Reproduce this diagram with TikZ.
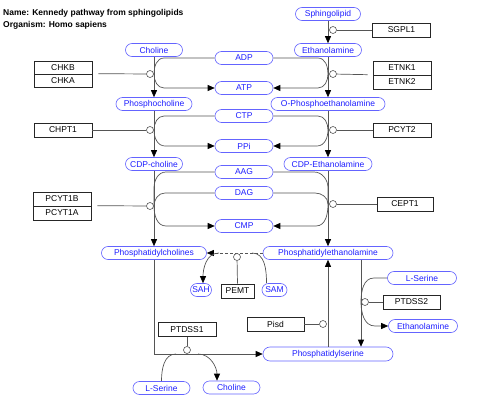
\documentclass[tikz,border=0pt]{standalone}
\usepackage{fontspec}
\setmainfont{Liberation Sans}
\usetikzlibrary{arrows.meta}
\definecolor{metb}{RGB}{100,100,255}
\definecolor{mett}{RGB}{30,30,255}
\definecolor{lc}{RGB}{85,85,85}
\begin{document}
\begin{tikzpicture}[x=1pt,y=-1pt,
  every node/.style={font=\fontsize{8.5}{10}\selectfont},
  met/.style={draw=metb, text=mett, rounded corners=6.5pt, minimum height=13pt, inner sep=0pt, line width=0.6pt},
  gene/.style={draw=black!85, minimum width=58pt, minimum height=14pt, inner sep=0pt, line width=0.6pt},
  anc/.style={circle, draw=lc, fill=white, minimum size=7pt, inner sep=0pt, line width=0.6pt},
  ln/.style={draw=lc, line width=0.7pt},
  ar/.style={ln, -{Triangle[length=7pt,width=6pt,color=black]}},
]
\useasboundingbox (0,0) rectangle (480,417);

% title
\node[anchor=base west, font=\bfseries\fontsize{8.5}{10}\selectfont, inner sep=0pt] (t1) at (3,16) {Name: Kennedy pathway from sphingolipids};
\node[anchor=base west, font=\bfseries\fontsize{8.5}{10}\selectfont, inner sep=0pt] (t2) at (3,28) {Organism: Homo sapiens};

% metabolites
\node[met, minimum width=65pt] (sph) at (328,14) {Sphingolipid};
\node[met, minimum width=67pt] (eth) at (328,50) {Ethanolamine};
\node[met, minimum width=57pt] (cho) at (154,50) {Choline};
\node[met, minimum width=58pt] (adp) at (244,58) {ADP};
\node[met, minimum width=58pt] (atp) at (244,88) {ATP};
\node[met, minimum width=76pt] (pcho) at (154,104) {Phosphocholine};
\node[met, minimum width=114pt] (opeth) at (328,104) {O-Phosphoethanolamine};
\node[met, minimum width=58pt] (ctp) at (244,116) {CTP};
\node[met, minimum width=58pt] (ppi) at (244,146) {PPi};
\node[met, minimum width=57pt] (cdpc) at (154,164) {CDP-choline};
\node[met, minimum width=88pt] (cdpe) at (328,164) {CDP-Ethanolamine};
\node[met, minimum width=58pt] (aag) at (244,172) {AAG};
\node[met, minimum width=58pt] (dag) at (244,193) {DAG};
\node[met, minimum width=58pt] (cmp) at (244,226) {CMP};
\node[met, minimum width=105pt] (pc) at (154,253) {Phosphatidylcholines};
\node[met, minimum width=130pt] (pe) at (328,253) {Phosphatidylethanolamine};
\node[met, minimum width=21pt] (sah) at (201,290) {SAH};
\node[met, minimum width=25pt] (sam) at (274.5,290) {SAM};
\node[met, minimum width=69pt] (lser2) at (422,278) {L-Serine};
\node[met, minimum width=69pt] (eth2) at (423,326) {Ethanolamine};
\node[met, minimum width=130pt, minimum height=14pt, rounded corners=7pt] (ps) at (328,354) {Phosphatidylserine};
\node[met, minimum width=57pt] (lser1) at (161.5,388) {L-Serine};
\node[met, minimum width=57pt] (cho2) at (231.5,387.5) {Choline};

% genes
\node[gene, minimum height=13pt] (chkb) at (63,67.5) {CHKB};
\node[gene, minimum height=13pt] (chka) at (63,80.5) {CHKA};
\node[gene] (chpt1) at (63,130) {CHPT1};
\node[gene] (pcyt1b) at (62,199) {PCYT1B};
\node[gene] (pcyt1a) at (62,213) {PCYT1A};
\node[gene] (sgpl1) at (401.5,30) {SGPL1};
\node[gene] (etnk1) at (402,68) {ETNK1};
\node[gene] (etnk2) at (402,82) {ETNK2};
\node[gene] (pcyt2) at (402,130) {PCYT2};
\node[gene, minimum width=56pt] (cept1) at (405,204) {CEPT1};
\node[gene, minimum width=33pt] (pemt) at (237.5,291) {PEMT};
\node[gene, minimum width=57pt] (ptdss2) at (411.5,302) {PTDSS2};
\node[gene, minimum width=57pt] (pisd) at (275.5,324) {Pisd};
\node[gene] (ptdss1) at (187,329.5) {PTDSS1};

% reaction points
\coordinate (r1) at (154,74);
\coordinate (r2) at (328,74);
\coordinate (r3) at (154,130);
\coordinate (r4) at (328,130);
\coordinate (r5) at (154,206);
\coordinate (r6) at (328,204);
\coordinate (r8) at (361,302);
\coordinate (s1) at (164,58);
\coordinate (s2) at (164,88);
\coordinate (s3) at (318,58);
\coordinate (s4) at (318,88);

% main conversions
\draw[ar] (sph) -- (eth);
\draw[ar] (cho) -- (pcho);
\draw[ar] (eth) -- (opeth);
\draw[ar] (pcho) -- (cdpc);
\draw[ar] (opeth) -- (cdpe);
\draw[ar] (cdpc) -- (pc);
\draw[ar] (cdpe) -- (pe);
\draw[ar] (ps) -- (pe);
\draw[ar] ([xshift=33pt]pe.south) -- ([xshift=33pt]ps.north);
\draw[ar] (pc.south) |- (ps.west);
\draw[ar, dash pattern=on 3pt off 2pt] (pe.west) -- (pc.east);

% side substrates / products
\draw[ln] (adp.west) -- (s1) to[out=180,in=90] (r1);
\draw[ar] (r1) to[out=-90,in=180] (s2) -- (atp.west);
\draw[ln] (adp.east) -- (s3) to[out=0,in=90] (r2);
\draw[ar] (r2) to[out=-90,in=0] (s4) -- (atp.east);

\draw[ln] (ctp.west) -- (164,116) to[out=180,in=90] (r3);
\draw[ar] (r3) to[out=-90,in=180] (165,146) -- (ppi.west);
\draw[ln] (ctp.east) -- (318,116) to[out=0,in=90] (r4);
\draw[ar] (r4) to[out=-90,in=0] (317,146) -- (ppi.east);

\draw[ln] (aag.west) -- (166,172) to[out=180,in=90] (154,188) -- (r5);
\draw[ln] (dag.west) -- (165,193) to[out=180,in=90] (r5);
\draw[ar] (r5) to[out=-90,in=180] (166,226) -- (cmp.west);
\draw[ln] (aag.east) -- (314,172) to[out=0,in=90] (328,188) -- (r6);
\draw[ln] (dag.east) -- (315,193) to[out=0,in=90] (r6);
\draw[ar] (r6) to[out=-90,in=0] (316,226) -- (cmp.east);

\draw[ln] ([xshift=-8pt]sam.north) to[out=90,in=0] (252,253);
\draw[ar] (219,253) to[out=180,in=90] ([xshift=2pt]sah.north);

\draw[ln] (lser2.west) -- (374,278) to[out=180,in=90] (r8);
\draw[ar] (r8) to[out=-90,in=180] (375,326) -- (eth2.west);

\draw[ln] (lser1.north) to[out=90,in=180] (176,354);
\draw[ar] (198,354) to[out=0,in=90] ([xshift=-14.5pt]cho2.north);

% anchors (enzyme circles)
\node[anc] (cS) at (333,30) {};
\node[anc] (cA) at (150,74) {};
\node[anc] (cB) at (333,74) {};
\node[anc] (cC) at (150,130) {};
\node[anc] (cD) at (333,130) {};
\node[anc] (cE) at (150,206) {};
\node[anc] (cF) at (333,204) {};
\node[anc] (cG) at (237,257) {};
\node[anc] (cH) at (365,302) {};
\node[anc] (cI) at (323,324) {};
\node[anc] (cJ) at (187,350) {};

% enzyme links
\draw[ln] (sgpl1.west) -- (cS);
\draw[ln] ([xshift=6pt]chka.north east) -- (cA);
\draw[ln] ([xshift=-5pt]etnk2.north west) -- (cB);
\draw[ln] (chpt1.east) -- (cC);
\draw[ln] (pcyt2.west) -- (cD);
\draw[ln] ([xshift=6pt]pcyt1a.north east) -- (cE);
\draw[ln] (cept1.west) -- (cF);
\draw[ln] (pemt.north) -- (cG);
\draw[ln] (ptdss2.west) -- (cH);
\draw[ln] (pisd.east) -- (cI);
\draw[ln] (ptdss1.south) -- (cJ);
\end{tikzpicture}
\end{document}
